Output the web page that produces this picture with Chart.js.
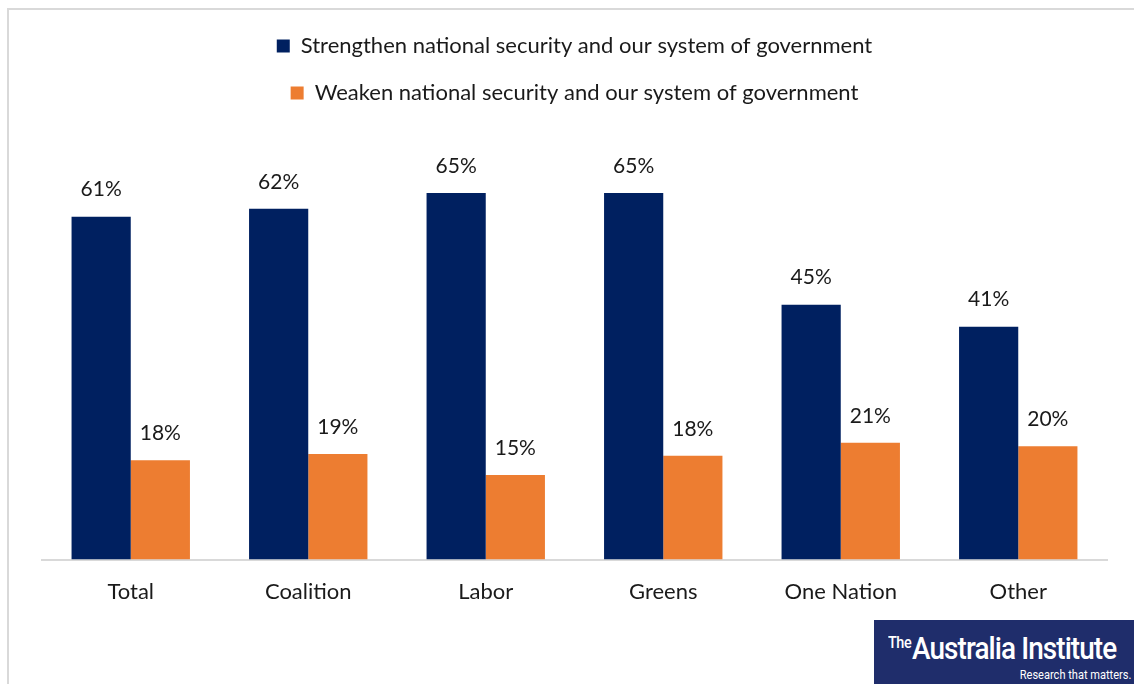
<!DOCTYPE html>
<html>
<head>
<meta charset="utf-8">
<script src="https://cdn.jsdelivr.net/npm/chart.js@4"></script>
<style>
  html, body { margin: 0; padding: 0; background: #fff; }
  body { width: 1134px; height: 684px; position: relative; overflow: hidden; }
  #frame { position: absolute; left: 7px; top: 8px; width: 1127px; height: 676px;
           border-left: 2px solid #d9d9d9; border-top: 2px solid #d9d9d9; box-sizing: border-box; }
  #wrap { position: absolute; left: 0; top: 0; width: 1134px; height: 684px; }
  #logo { position: absolute; left: 874px; top: 620px; width: 260px; height: 64px; background: #1f2d6b;
          color: #fff; font-family: "Roboto", sans-serif; }
  #logo .main { position: absolute; left: 14px; top: 10px; font-size: 31px; letter-spacing: -1px; font-weight: 500; transform: scaleX(0.9); transform-origin: left; white-space: nowrap; }
  #logo .main sup { font-size: 16px; vertical-align: 11px; letter-spacing: -0.5px; margin-right: 1px; }
  #logo .tag { position: absolute; right: 3px; bottom: 2px; font-size: 13px; transform: scaleX(0.85); transform-origin: right; white-space: nowrap; }
</style>
</head>
<body>
<div id="frame"></div>
<div id="wrap"><canvas id="c" width="1134" height="684"></canvas></div>
<div id="logo"><div class="main"><sup>The</sup>Australia Institute</div><div class="tag">Research that matters.</div></div>
<script>
const categories = ["Total", "Coalition", "Labor", "Greens", "One Nation", "Other"];
const seriesNames = ["Strengthen national security and our system of government",
                     "Weaken national security and our system of government"];
const strengthen = [60.8, 62.2, 65, 65, 45.2, 41.3];
const weaken = [17.6, 18.7, 15, 18.4, 20.7, 20.1];
const colors = ["#002060", "#ED7D31"];

const FONT = "Lato, 'Open Sans', sans-serif";

const dataLabels = {
  id: 'dataLabels',
  afterDatasetsDraw(chart) {
    const ctx = chart.ctx;
    ctx.save();
    ctx.font = "21px " + FONT;
    ctx.fillStyle = "#1a1a1a";
    ctx.textAlign = "center";
    ctx.textBaseline = "middle";
    chart.data.datasets.forEach((ds, i) => {
      const meta = chart.getDatasetMeta(i);
      meta.data.forEach((bar, j) => {
        ctx.fillText(Math.round(ds.data[j]) + "%", bar.x, bar.y - 27);
      });
    });
    ctx.restore();
  }
};

new Chart(document.getElementById('c'), {
  type: 'bar',
  data: {
    labels: categories,
    datasets: [
      { label: seriesNames[0], data: strengthen, backgroundColor: colors[0] },
      { label: seriesNames[1], data: weaken, backgroundColor: colors[1] }
    ]
  },
  options: {
    responsive: false,
    animation: false,
    devicePixelRatio: 1,
    layout: { padding: { left: 42, right: 27, top: 10, bottom: 60 } },
    datasets: { bar: { categoryPercentage: 0.667, barPercentage: 1.0 } },
    plugins: {
      legend: {
        position: 'top',
        labels: {
          font: { size: 22, family: FONT },
          color: "#1a1a1a",
          boxWidth: 13, boxHeight: 13,
          padding: 25
        }
      },
      tooltip: { enabled: false }
    },
    scales: {
      x: {
        grid: { display: false, drawTicks: false },
        border: { display: true, color: "#d9d9d9", width: 2 },
        ticks: { font: { size: 22, family: FONT }, color: "#1a1a1a", padding: 19 }
      },
      y: {
        display: false,
        min: 0, max: 79
      }
    }
  },
  plugins: [dataLabels]
});
</script>
</body>
</html>
